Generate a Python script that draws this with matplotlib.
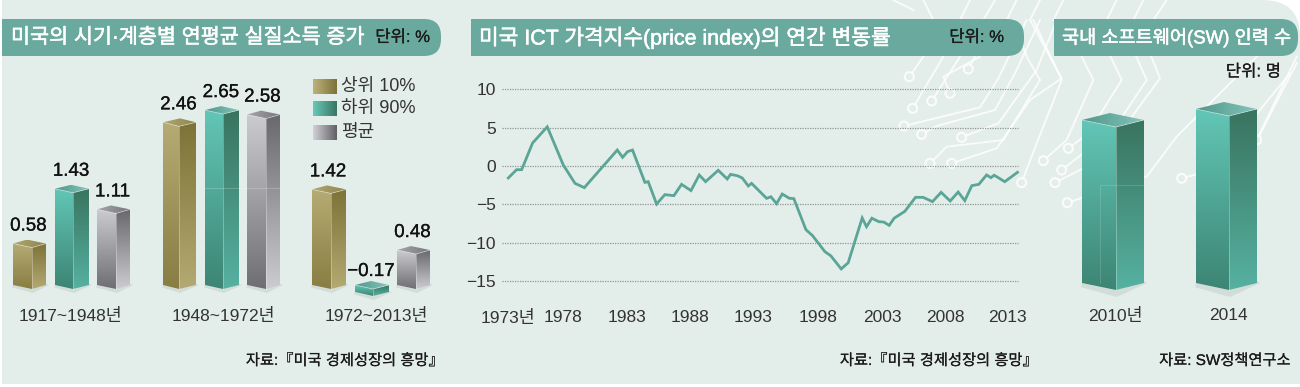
# -*- coding: utf-8 -*-
import numpy as np
import matplotlib as mpl
import matplotlib.pyplot as plt
import matplotlib.patheffects as pe
from matplotlib.colors import LinearSegmentedColormap
from matplotlib.patches import Polygon, PathPatch, Circle
from matplotlib.path import Path

# 글꼴 설정
mpl.rcParams['font.family'] = ['Liberation Sans', 'Noto Sans CJK KR']
mpl.rcParams['axes.unicode_minus'] = False

W, H = 1300, 387

# 왼쪽 막대 데이터
periods = ['1917~1948년', '1948~1972년', '1972~2013년']
top10 = [0.58, 2.46, 1.42]
bottom90 = [1.43, 2.65, -0.17]
average = [1.11, 2.58, 0.48]
income_labels = ['상위 10%', '하위 90%', '평균']

# 가운데 선 그래프 데이터
ict_years = [1973.00, 1973.65, 1974.05, 1974.91, 1976.06, 1977.32, 1978.24, 1978.97,
             1981.56, 1981.98, 1982.37, 1982.76, 1983.73, 1983.99, 1984.65, 1985.30,
             1986.01, 1986.61, 1987.35, 1988.00, 1988.50, 1989.49, 1990.20, 1990.46,
             1990.98, 1991.38, 1991.85, 1992.11, 1993.29, 1993.63, 1994.07, 1994.52,
             1995.07, 1995.43, 1996.38, 1996.90, 1997.87, 1998.34, 1999.15, 1999.70,
             2000.80, 2001.14, 2001.56, 2002.11, 2002.50, 2002.92, 2003.31, 2004.15,
             2004.99, 2005.59, 2006.32, 2007.00, 2007.71, 2008.34, 2008.86, 2009.41,
             2009.96, 2010.57, 2010.91, 2011.17, 2012.00, 2013.00]
ict_values = [-1.56, -0.48, -0.48, 3.0, 5.1, 0.13, -2.26, -2.82,
              2.08, 1.13, 1.87, 2.08, -2.13, -2.04, -4.95, -3.73,
              -3.86, -2.39, -3.2, -1.17, -2.04, -0.56, -1.69, -1.09,
              -1.26, -1.56, -2.6, -2.26, -4.21, -4.0, -4.9, -3.65,
              -4.2, -4.25, -8.29, -9.07, -11.15, -11.7, -13.4, -12.6,
              -6.77, -7.9, -6.8, -7.25, -7.3, -7.73, -6.8, -5.9,
              -4.08, -4.08, -4.64, -3.43, -4.56, -3.39, -4.51, -2.56,
              -2.39, -1.17, -1.52, -1.2, -2.04, -0.82]
ict_yticks = [10, 5, 0, -5, -10, -15]
ict_ylabels = ['10', '5', '0', '−5', '−10', '−15']
ict_xticks = [1973, 1977.3, 1982.3, 1987.3, 1992.2, 1997.3, 2002.4, 2007.3, 2012.2]
ict_xlabels = ['1973년', '1978', '1983', '1988', '1993', '1998', '2003', '2008', '2013']

# 오른쪽 막대 데이터 (수치 표기가 없어 높이로 추정)
sw_years = ['2010년', '2014']
sw_values = [163, 174]

# 색상
PANEL = '#e3edea'
BAR_TITLE = '#6aa99e'
LINE = '#5ba596'
OLIVE = dict(front=('#b5ab74', '#887d43'), side=('#7d7338', '#b3a972'), top=('#b0a66e', '#8f8550'))
TEAL = dict(front=('#62c6b6', '#3d8574'), side=('#39745f', '#56b1a1'), top=('#4f978a', '#86c4ba'))
GRAY = dict(front=('#cbcbd0', '#6e6e73'), side=('#68686d', '#cbcbd0'), top=('#a6a6aa', '#77777b'))


def px_axes(left, right, top, bottom):
    ax = fig.add_axes([left / W, 1 - bottom / H, (right - left) / W, (bottom - top) / H])
    ax.patch.set_visible(False)
    ax.set_autoscale_on(False)
    for s in ax.spines.values():
        s.set_visible(False)
    ax.tick_params(length=0, labelsize=12.5, labelcolor='#333333')
    return ax


def grad_face(ax, pts, colors, horizontal=False, z=3):
    cmap = LinearSegmentedColormap.from_list('g', colors)
    poly = Polygon(pts, closed=True, fc='none', ec='none', transform=ax.transData)
    ax.add_patch(poly)
    xs = [p[0] for p in pts]
    ys = [p[1] for p in pts]
    arr = np.linspace(0, 1, 128).reshape(1, -1) if horizontal else np.linspace(0, 1, 128).reshape(-1, 1)
    im = ax.imshow(arr, cmap=cmap, extent=[min(xs), max(xs), min(ys), max(ys)],
                   aspect='auto', origin='upper', zorder=z, interpolation='bilinear')
    im.set_clip_path(poly)


def bar3d(ax, xl, xm, xr, val, base, scale, pal, dy=4.0):
    # 앞면, 옆면, 윗면을 각각 그린다
    d = dy / scale
    top = max(val, base)
    low = min(val, base)
    ax.add_patch(Polygon([(xl, low), (xm, low - d), (xr, low + 0.3 * d), (xr + 3, low),
                          (xm + 1, low - 2.0 * d), (xl - 1, low - 0.6 * d)],
                         fc='#5a6a60', ec='none', alpha=0.12, zorder=2))
    grad_face(ax, [(xl, top), (xm, top - d), (xm, low - d), (xl, low)], pal['front'])
    grad_face(ax, [(xm, top - d), (xr, top), (xr, low), (xm, low - d)], pal['side'])
    xb = xl + (xr - xm)
    grad_face(ax, [(xl, top), (xb, top + d), (xr, top), (xm, top - d)], pal['top'], horizontal=True, z=4)
    ax.plot([xl, xm, xr], [top, top - d, top], color='white', lw=0.6, alpha=0.45, zorder=5)
    ax.plot([xm, xm], [top - d, low - d], color='white', lw=0.6, alpha=0.35, zorder=5)


fig = plt.figure(figsize=(13, 3.87), dpi=100, facecolor='white')

# 배경 (픽셀 좌표)
bg = fig.add_axes([0, 0, 1, 1])
bg.set_autoscale_on(False)
bg.set_xlim(0, W)
bg.set_ylim(H, 0)
bg.set_axis_off()

panel = Path([(2, 0), (1262, 0), (1300, 0), (1300, 36), (1300, 384), (2, 384), (2, 0)],
             [Path.MOVETO, Path.LINETO, Path.CURVE3, Path.CURVE3, Path.LINETO, Path.LINETO, Path.CLOSEPOLY])
bg.add_patch(PathPatch(panel, fc=PANEL, ec='none', zorder=0))

# 회로 무늬 (zoom 좌표 기준 장식)
circuit = [
    [(72, 378), (300, 322), (355, 235), (440, 60)],
    [(125, 403), (170, 378), (345, 330), (405, 220), (480, 60)],
    [(245, 412), (355, 370), (470, 210), (530, 60)],
    [(150, 490), (200, 440), (370, 420), (480, 240), (440, 170), (400, 60)],
    [(215, 490), (350, 445), (450, 300), (545, 235), (450, 60)],
    [(425, 548), (470, 430), (545, 240), (460, 60)],
    [(490, 482), (560, 420), (640, 240), (550, 60)],
    [(565, 445), (625, 400), (725, 240), (640, 60)],
    [(545, 510), (700, 390), (800, 240), (720, 60)],
    [(525, 548), (660, 480), (840, 235), (770, 60)],
    [(562, 608), (800, 530), (890, 410), (1130, 170)],
    [(905, 535), (1100, 480), (1250, 190)],
    [(1000, 500), (1230, 220)],
    [(88, 230), (130, 170)],
    [(98, 325), (190, 170)],
    [(155, 303), (240, 170)],
    [(210, 280), (190, 230), (300, 170)],
    [(265, 207), (285, 170)],
    [(100, 30), (40, 0)],
    [(160, 60), (130, 0)],
    [(240, 60), (270, 0)],
    [(310, 60), (345, 0)],
    [(380, 60), (410, 0)],
    [(450, 60), (480, 0)],
    [(520, 60), (550, 0)],
    [(680, 60), (710, 0)],
    [(760, 60), (790, 0)],
    [(820, 60), (860, 0)],
    [(1130, 420), (1250, 170)],
]
for line in circuit:
    xs = [880 + p[0] / 3 for p in line]
    ys = [p[1] / 3 for p in line]
    bg.plot(xs, ys, color='white', lw=1.4, alpha=0.8, zorder=1)
    if ys[0] > 25:
        bg.add_patch(Circle((xs[0], ys[0]), 4.5, fc=PANEL, ec='white', lw=1.5, alpha=0.85, zorder=1))


# 제목 띠
def title_bar(x0, x1, y0=19, y1=56, r=17):
    verts = [(x0, y0), (x1 - r, y0), (x1, y0), (x1, y0 + r), (x1, y1 - r), (x1, y1), (x1 - r, y1), (x0, y1), (x0, y0)]
    codes = [Path.MOVETO, Path.LINETO, Path.CURVE3, Path.CURVE3, Path.LINETO, Path.CURVE3, Path.CURVE3,
             Path.LINETO, Path.CLOSEPOLY]
    bg.add_patch(PathPatch(Path(verts, codes), fc=BAR_TITLE, ec='none', zorder=2))


title_bar(2, 441)
title_bar(471, 1024)
title_bar(1054, 1298)

bold = [pe.withStroke(linewidth=0.4, foreground='white')]
semi = [pe.withStroke(linewidth=0.12, foreground='#1a1a1a')]
title_kw = dict(color='white', va='center', ha='left', zorder=6, path_effects=bold)
bg.text(11, 37.5, '미국의 시기·계층별 연평균 실질소득 증가', fontsize=14.9, **title_kw)
bg.text(479, 37.5, '미국 ICT 가격지수(price index)의 연간 변동률', fontsize=15.4, **title_kw)
bg.text(1062, 37.5, '국내 소프트웨어(SW) 인력 수', fontsize=13.4, **title_kw)

unit_kw = dict(color='#1a1a1a', fontsize=12, va='center', zorder=6, path_effects=semi)
bg.text(430, 37.5, '단위: %', ha='right', **unit_kw)
bg.text(1004, 37.5, '단위: %', ha='right', **unit_kw)
bg.text(1281, 72, '단위: 명', ha='right', **unit_kw)

src_kw = dict(color='#1a1a1a', fontsize=11, va='center', ha='right', zorder=6, path_effects=semi)
bg.text(443, 361, '자료:『미국 경제성장의 흥망』', **src_kw)
bg.text(1037, 361, '자료:『미국 경제성장의 흥망』', **src_kw)
bg.text(1290, 361, '자료: SW정책연구소', **src_kw)

# 왼쪽 막대 그래프: y = 281 - 64.5 * 값 (픽셀)
ax1 = px_axes(0, 450, 60, 300)
ax1.set_xlim(0, 450)
ax1.set_ylim((281 - 300) / 64.5, (281 - 60) / 64.5)
base1 = -4 / 64.5
slots = [
    [(13, 32, 46), (55, 73, 89), (97, 116, 130)],
    [(163, 179, 196), (205, 223, 239), (247, 266, 280)],
    [(312, 331, 346), (355, 373, 389), (397, 416, 430)],
]
for i in range(3):
    for slot, val, pal in zip(slots[i], (top10[i], bottom90[i], average[i]), (OLIVE, TEAL, GRAY)):
        bar3d(ax1, slot[0], slot[1], slot[2], val, base1, 64.5, pal)
        lab = ('−%.2f' % abs(val)) if val < 0 else '%.2f' % val
        y = max(val, base1) + 5 / 64.5 + (4 / 64.5 if val >= 0 else 0)
        ax1.text((slot[0] + slot[2]) / 2 - 1, y, lab, ha='center', va='bottom', fontsize=13.5,
                 color='#111111', zorder=6, path_effects=[pe.withStroke(linewidth=0.2, foreground='#111111')])
# 2차 막대의 옅은 띠
ax1.plot([205, 280], [(281 - 188) / 64.5] * 2, color='white', lw=0.8, alpha=0.2, zorder=5)
ax1.set_xticks([70, 223, 376])
ax1.set_xticklabels(periods)
ax1.set_yticks([])
ax1.tick_params(axis='x', pad=6)

# 범례
swatches = [(79, ('#bdb27c', '#7d7338')), (101, ('#68c9b8', '#397563')), (125, ('#d2d2d6', '#5f5f64'))]
for (y0, cols), name in zip(swatches, income_labels):
    grad_face(bg, [(313, y0), (337, y0), (337, y0 + 15), (313, y0 + 15)], cols, horizontal=True, z=3)
    bg.text(341, y0 + 7.5, name, fontsize=13, color='#333333', va='center', ha='left', zorder=6)
bg.set_xlim(0, W)
bg.set_ylim(H, 0)

# 가운데 선 그래프: 픽셀 502~1020
ax2 = px_axes(502, 1020, 70, 302)
ax2.set_xlim(1973 + (502 - 508.3) / 12.73, 1973 + (1020 - 508.3) / 12.73)
ax2.set_ylim((166 - 302) / 7.68, (166 - 70) / 7.68)
ax2.hlines(ict_yticks, ax2.get_xlim()[0], 2013, color='#8f9795', lw=0.9, linestyles=(0, (1, 1)), zorder=2)
ax2.plot(ict_years, ict_values, color=LINE, lw=2.0, solid_joinstyle='miter', zorder=3)
ax2.set_yticks(ict_yticks)
ax2.set_yticklabels(ict_ylabels)
ax2.set_xticks(ict_xticks)
ax2.set_xticklabels(ict_xlabels)
ax2.tick_params(axis='y', pad=4.5)
ax2.tick_params(axis='x', pad=6)

# 오른쪽 막대 그래프
ax3 = px_axes(1050, 1300, 60, 300)
ax3.set_xlim(1050, 1300)
ax3.set_ylim(283 - 300, 283 - 60)
sw_slots = [(1082, 1116, 1144), (1196, 1229, 1257)]
for slot, val in zip(sw_slots, sw_values):
    bar3d(ax3, slot[0], slot[1], slot[2], val, 0, 1, TEAL, dy=7)
ax3.plot([1100, 1100, 1144], [0, 98, 98], color='white', lw=0.7, alpha=0.15, zorder=5)
ax3.set_xticks([1115, 1228])
ax3.set_xticklabels(sw_years)
ax3.set_yticks([])
ax3.tick_params(axis='x', pad=6)

plt.savefig('out.png', dpi=100)
